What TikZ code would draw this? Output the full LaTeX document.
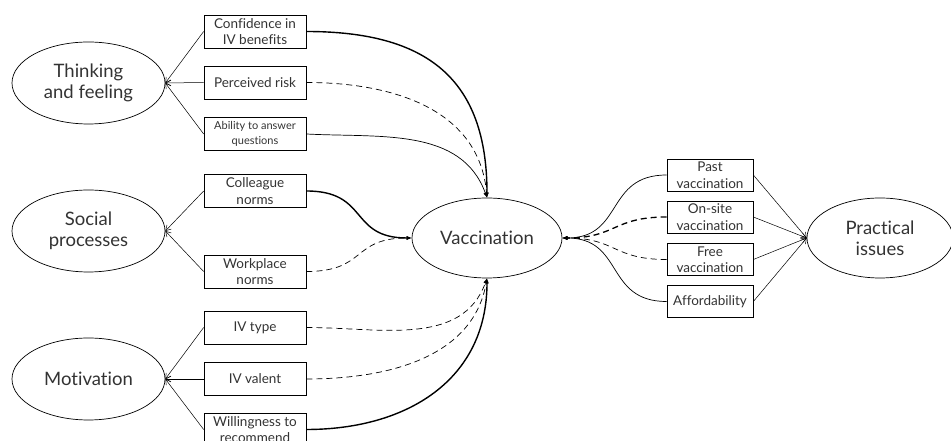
\documentclass[tikz,border=0pt]{standalone}
\usepackage{fontspec}
\setmainfont{Lato}[Ligatures=NoCommon]
\usetikzlibrary{arrows.meta}
\usetikzlibrary{shapes.geometric}

\begin{document}
\begin{tikzpicture}[x=1pt,y=1pt,
factor/.style={ellipse, draw, line width=0.7pt, minimum width=153pt, minimum height=82pt, inner sep=0pt, align=center, text=black!80, font=\fontsize{18.5}{21}\selectfont},
item/.style={rectangle, draw, line width=0.7pt, minimum width=102pt, minimum height=33pt, inner sep=1pt, align=center, text=black!80, font=\fontsize{13.5}{16.5}\selectfont},
ritem/.style={item, minimum width=86pt, minimum height=32pt},
load/.style={line width=0.5pt, -{Straight Barb[length=5pt,width=6pt]}},
effect/.style={line width=0.7pt, -{Latex[length=5pt,width=4pt]}},
strongeffect/.style={effect, line width=1.4pt},
weakeffect/.style={effect, dash pattern=on 6pt off 4pt}
]
\useasboundingbox (0,0) rectangle (951,441);
\clip (0,0) rectangle (951,441);
% draws factors
\node[factor] (think) at (88.5,358) {Thinking\\and feeling};
\node[factor] (social) at (88.5,210) {Social\\processes};
\node[factor] (motiv) at (88.5,62) {Motivation};
\node[factor, minimum width=150pt, minimum height=80pt] (vacc) at (487,203) {Vaccination};
\node[factor, minimum width=146pt, minimum height=80pt] (pract) at (880,203) {Practical\\issues};
% draws items
\node[item] (conf) at (255,409.5) {Confidence in\\IV benefits};
\node[item] (risk) at (255,358.5) {Perceived risk};
\node[item, font=\fontsize{11}{15}\selectfont] (abil) at (255,307) {Ability to answer\\questions};
\node[item] (coll) at (255,250) {Colleague\\norms};
\node[item] (work) at (255,169.5) {Workplace\\norms};
\node[item] (ivtype) at (255,113.5) {IV type};
\node[item] (ivval) at (255,62) {IV valent};
\node[item] (will) at (255,11.5) {Willingness to\\recommend};
\node[ritem] (past) at (710,266) {Past\\vaccination};
\node[ritem] (onsite) at (710,224) {On-site\\vaccination};
\node[ritem] (free) at (710,181.5) {Free\\vaccination};
\node[ritem] (afford) at (710,139.5) {Affordability};
% draws loadings
\foreach \i in {conf,risk,abil} \draw[load] (\i.west) -- (think.east);
\foreach \i in {coll,work} \draw[load] (\i.west) -- (social.east);
\foreach \i in {ivtype,ivval,will} \draw[load] (\i.west) -- (motiv.east);
\foreach \i in {past,onsite,free,afford} \draw[load] (\i.east) -- (pract.west);
% draws effects on vaccination
\draw[strongeffect] (conf.east) to[out=0,in=90,looseness=1.25] (vacc.north);
\draw[weakeffect] (risk.east) to[out=0,in=95,looseness=1.05] (vacc.north);
\draw[effect] (abil.east) to[out=-3,in=110] (vacc.north);
\draw[strongeffect] (coll.east) to[out=0,in=180,looseness=1.4] (vacc.west);
\draw[weakeffect] (work.east) to[out=0,in=180,looseness=1.4] (vacc.west);
\draw[weakeffect] (ivtype.east) to[out=0,in=-110] (vacc.south);
\draw[weakeffect] (ivval.east) to[out=0,in=-100] (vacc.south);
\draw[strongeffect] (will.east) to[out=0,in=-90,looseness=1.1] (vacc.south);
\draw[effect] (past.west) to[out=180,in=0,looseness=1.3] (vacc.east);
\draw[weakeffect, line width=1.3pt] (onsite.west) to[out=180,in=0,looseness=1.3] (vacc.east);
\draw[weakeffect] (free.west) to[out=180,in=0,looseness=1.3] (vacc.east);
\draw[effect] (afford.west) to[out=180,in=0,looseness=1.3] (vacc.east);
\end{tikzpicture}
\end{document}
